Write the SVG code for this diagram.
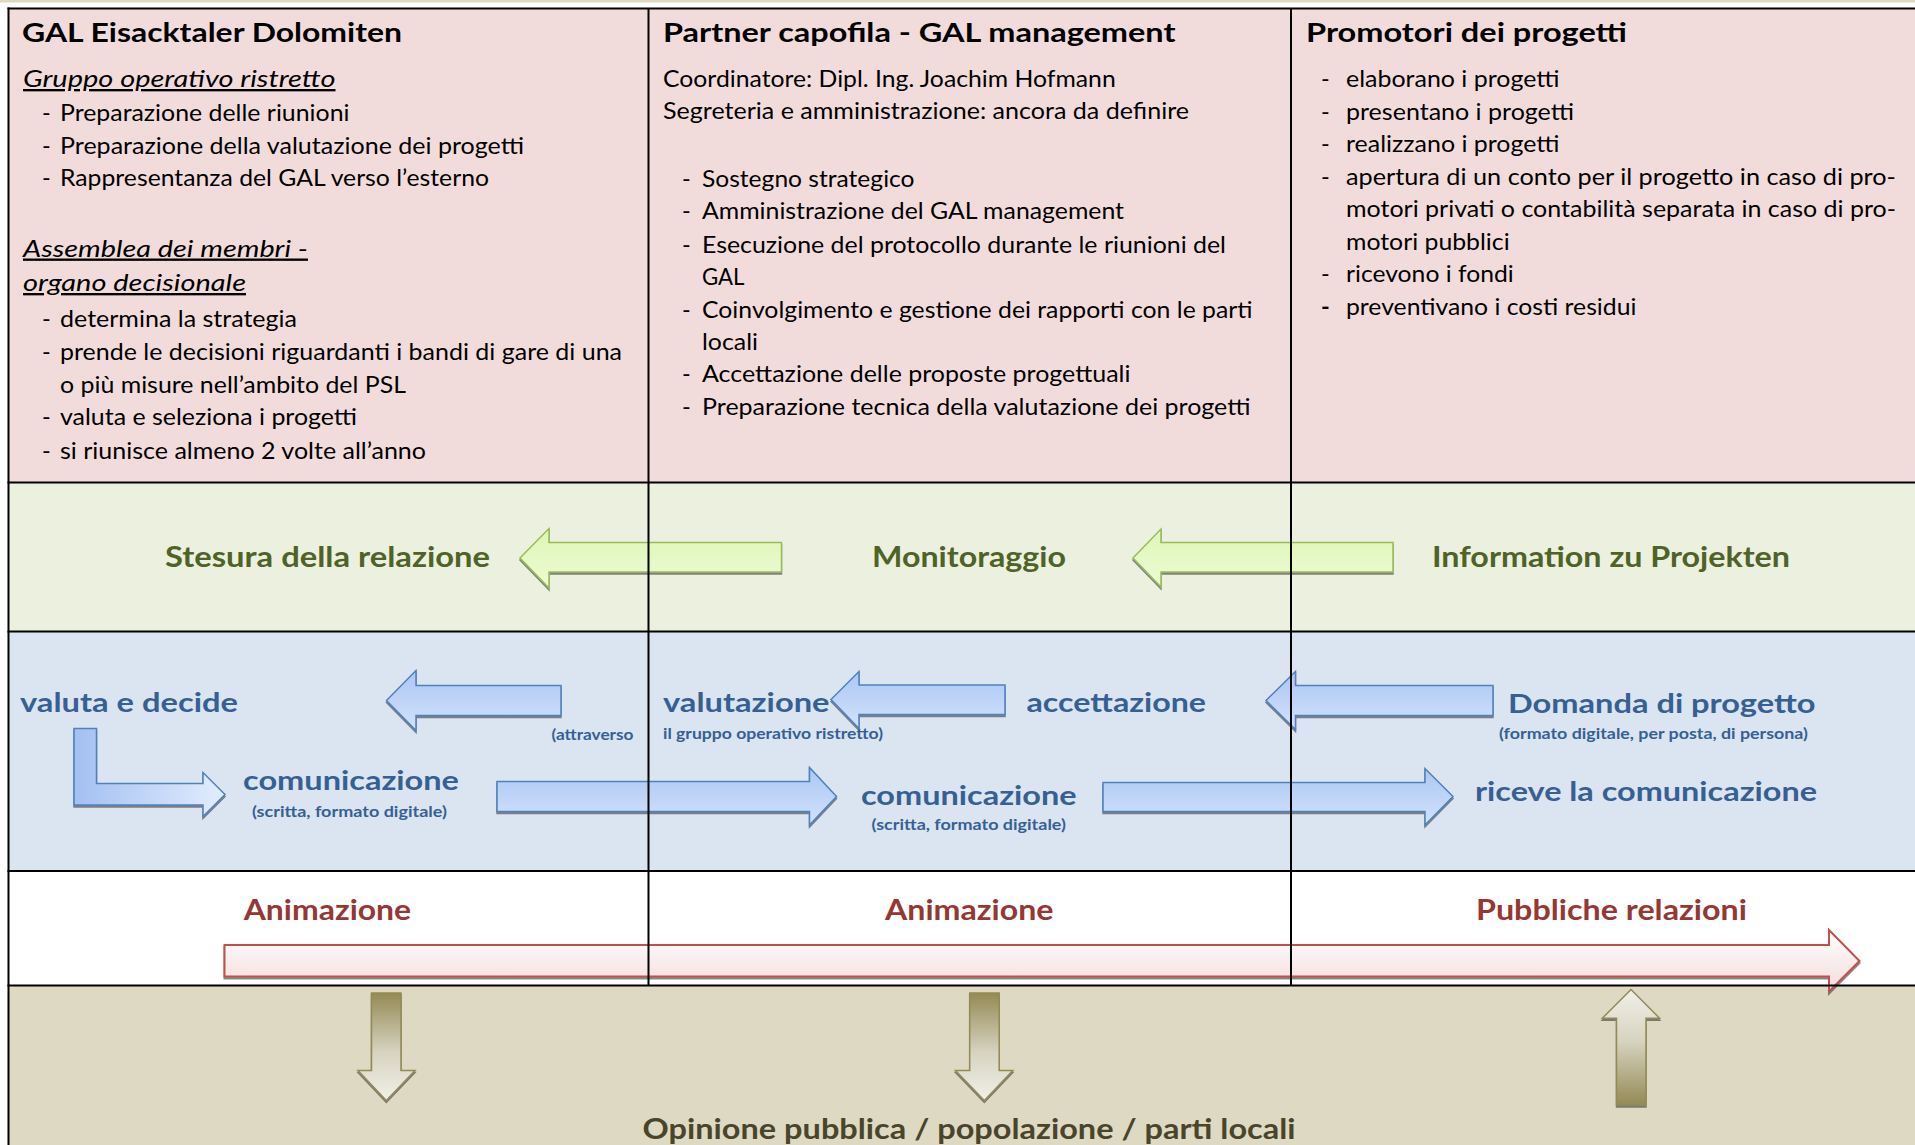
<svg xmlns="http://www.w3.org/2000/svg" width="1915" height="1145" viewBox="0 0 1915 1145">
<style>
text{font-family:Lato,"Open Sans","Liberation Sans",sans-serif}
.t{font-size:23.5px;fill:#000}
.h{font-size:26px;font-weight:bold;fill:#000}
.it{font-size:23.5px;font-style:italic;text-decoration:underline;fill:#000}
.g{font-size:28px;font-weight:bold;fill:#4F6228}
.b{font-size:27px;font-weight:bold;fill:#366092}
.bs{font-size:14.5px;font-weight:bold;fill:#366092}
.r{font-size:28px;font-weight:bold;fill:#953735}
.o{font-size:28px;font-weight:bold;fill:#4A452A}
.grid{stroke:#000;stroke-width:2;fill:none}
.ag{fill:url(#gGreen);stroke:#9BBB59;stroke-width:1.5;filter:url(#sh)}
.ab{fill:url(#gBlue);stroke:#4F81BD;stroke-width:1.5;filter:url(#sh)}
.abl{fill:url(#gBlueL);stroke:#4F81BD;stroke-width:1.5;filter:url(#sh)}
.ar{fill:url(#gRed);stroke:#C0504D;stroke-width:2;filter:url(#sh)}
.atd{fill:url(#gTanDown);stroke:#948A54;stroke-width:1.5;filter:url(#sh)}
.atu{fill:url(#gTanUp);stroke:#948A54;stroke-width:1.5;filter:url(#sh)}
</style>
<defs>
<filter id="sh" x="-5%" y="-20%" width="110%" height="150%">
<feDropShadow dx="0" dy="2" stdDeviation="0.7" flood-color="#444" flood-opacity="0.65"/>
</filter>
<linearGradient id="gGreen" x1="0" y1="0" x2="0" y2="1"><stop offset="0" stop-color="#DDF6B6"/><stop offset="1" stop-color="#EDFBD4"/></linearGradient>
<linearGradient id="gBlue" x1="0" y1="0" x2="0" y2="1"><stop offset="0" stop-color="#ABC7F3"/><stop offset="1" stop-color="#D2E2FB"/></linearGradient>
<linearGradient id="gBlueL" x1="0" y1="0" x2="1" y2="0"><stop offset="0" stop-color="#A3C0F2"/><stop offset="1" stop-color="#E3EDFD"/></linearGradient>
<linearGradient id="gRed" x1="0" y1="0" x2="0" y2="1"><stop offset="0" stop-color="#FFFFFF"/><stop offset="1" stop-color="#F2DCDB"/></linearGradient>
<linearGradient id="gTanDown" x1="0" y1="0" x2="0" y2="1"><stop offset="0" stop-color="#948A54"/><stop offset="0.55" stop-color="#D6D3C0"/><stop offset="1" stop-color="#F1F0E8"/></linearGradient>
<linearGradient id="gTanUp" x1="0" y1="0" x2="0" y2="1"><stop offset="0" stop-color="#F1F0E8"/><stop offset="0.45" stop-color="#D6D3C0"/><stop offset="1" stop-color="#948A54"/></linearGradient>
</defs>

<g id="background">
<rect x="0" y="0" width="1915" height="1145" fill="#FFFFFF"/>
<rect x="0" y="0" width="1915" height="2.5" fill="#DDD9C3"/>
<rect x="8.5" y="8.5" width="1906.5" height="474" fill="#F2DCDB"/>
<rect x="8.5" y="482.5" width="1906.5" height="149" fill="#EBF1DE"/>
<rect x="8.5" y="631.5" width="1906.5" height="239.5" fill="#DBE5F1"/>
<rect x="8.5" y="871" width="1906.5" height="114.6" fill="#FFFFFF"/>
<rect x="8.5" y="985.6" width="1906.5" height="159.4" fill="#DDD9C3"/>
</g>

<g id="gal-eisacktaler">
<text class="h" x="22" y="42" textLength="380" lengthAdjust="spacingAndGlyphs">GAL Eisacktaler Dolomiten</text>
<text class="it" x="23" y="87" textLength="312.5" lengthAdjust="spacingAndGlyphs">Gruppo operativo ristretto</text>
<text class="t" y="121"><tspan x="42">-</tspan><tspan x="60" textLength="289.5" lengthAdjust="spacingAndGlyphs">Preparazione delle riunioni</tspan></text>
<text class="t" y="153.5"><tspan x="42">-</tspan><tspan x="60" textLength="464" lengthAdjust="spacingAndGlyphs">Preparazione della valutazione dei progetti</tspan></text>
<text class="t" y="186"><tspan x="42">-</tspan><tspan x="60" textLength="429" lengthAdjust="spacingAndGlyphs">Rappresentanza del GAL verso l’esterno</tspan></text>
<text class="it" x="23" y="256.5" textLength="285" lengthAdjust="spacingAndGlyphs">Assemblea dei membri -</text>
<text class="it" x="23" y="291" textLength="223" lengthAdjust="spacingAndGlyphs">organo decisionale</text>
<text class="t" y="326.5"><tspan x="42">-</tspan><tspan x="60" textLength="237" lengthAdjust="spacingAndGlyphs">determina la strategia</tspan></text>
<text class="t" y="359.5"><tspan x="42">-</tspan><tspan x="60" textLength="562" lengthAdjust="spacingAndGlyphs">prende le decisioni riguardanti i bandi di gare di una</tspan></text>
<text class="t" x="60" y="392.5" textLength="346" lengthAdjust="spacingAndGlyphs">o più misure nell’ambito del PSL</text>
<text class="t" y="425"><tspan x="42">-</tspan><tspan x="60" textLength="297" lengthAdjust="spacingAndGlyphs">valuta e seleziona i progetti</tspan></text>
<text class="t" y="458.5"><tspan x="42">-</tspan><tspan x="60" textLength="366" lengthAdjust="spacingAndGlyphs">si riunisce almeno 2 volte all’anno</tspan></text>
</g>

<g id="partner-capofila">
<text class="h" x="663" y="42" textLength="512.5" lengthAdjust="spacingAndGlyphs">Partner capofila - GAL management</text>
<text class="t" x="663" y="86.5" textLength="452.7" lengthAdjust="spacingAndGlyphs">Coordinatore: Dipl. Ing. Joachim Hofmann</text>
<text class="t" x="663" y="118.5" textLength="526" lengthAdjust="spacingAndGlyphs">Segreteria e amministrazione: ancora da definire</text>
<text class="t" y="186.5"><tspan x="682">-</tspan><tspan x="702" textLength="212.5" lengthAdjust="spacingAndGlyphs">Sostegno strategico</tspan></text>
<text class="t" y="219.2"><tspan x="682">-</tspan><tspan x="702" textLength="422" lengthAdjust="spacingAndGlyphs">Amministrazione del GAL management</tspan></text>
<text class="t" y="252.5"><tspan x="682">-</tspan><tspan x="702" textLength="524" lengthAdjust="spacingAndGlyphs">Esecuzione del protocollo durante le riunioni del</tspan></text>
<text class="t" x="702" y="285.2" textLength="42.5" lengthAdjust="spacingAndGlyphs">GAL</text>
<text class="t" y="317.5"><tspan x="682">-</tspan><tspan x="702" textLength="550.6" lengthAdjust="spacingAndGlyphs">Coinvolgimento e gestione dei rapporti con le parti</tspan></text>
<text class="t" x="702" y="349.5" textLength="56" lengthAdjust="spacingAndGlyphs">locali</text>
<text class="t" y="382"><tspan x="682">-</tspan><tspan x="702" textLength="428.5" lengthAdjust="spacingAndGlyphs">Accettazione delle proposte progettuali</tspan></text>
<text class="t" y="414.5"><tspan x="682">-</tspan><tspan x="702" textLength="548.5" lengthAdjust="spacingAndGlyphs">Preparazione tecnica della valutazione dei progetti</tspan></text>
</g>

<g id="promotori">
<text class="h" x="1306" y="42" textLength="321" lengthAdjust="spacingAndGlyphs">Promotori dei progetti</text>
<text class="t" y="87"><tspan x="1321">-</tspan><tspan x="1346" textLength="213.5" lengthAdjust="spacingAndGlyphs">elaborano i progetti</tspan></text>
<text class="t" y="119.5"><tspan x="1321">-</tspan><tspan x="1346" textLength="228" lengthAdjust="spacingAndGlyphs">presentano i progetti</tspan></text>
<text class="t" y="152"><tspan x="1321">-</tspan><tspan x="1346" textLength="213.5" lengthAdjust="spacingAndGlyphs">realizzano i progetti</tspan></text>
<text class="t" y="184.5"><tspan x="1321">-</tspan><tspan x="1346" textLength="550" lengthAdjust="spacingAndGlyphs">apertura di un conto per il progetto in caso di pro-</tspan></text>
<text class="t" x="1346" y="217" textLength="550" lengthAdjust="spacingAndGlyphs">motori privati o contabilità separata in caso di pro-</text>
<text class="t" x="1346" y="249.5" textLength="163.6" lengthAdjust="spacingAndGlyphs">motori pubblici</text>
<text class="t" y="282"><tspan x="1321">-</tspan><tspan x="1346" textLength="167.7" lengthAdjust="spacingAndGlyphs">ricevono i fondi</tspan></text>
<text class="t" y="314.5"><tspan x="1321" font-weight="bold">-</tspan><tspan x="1346" textLength="290.4" lengthAdjust="spacingAndGlyphs">preventivano i costi residui</tspan></text>
</g>

<g id="stesura"><text class="g" x="165" y="567" textLength="325" lengthAdjust="spacingAndGlyphs">Stesura della relazione</text></g>
<g id="monitoraggio"><text class="g" x="872" y="567" textLength="194" lengthAdjust="spacingAndGlyphs">Monitoraggio</text></g>
<g id="information"><text class="g" x="1432" y="567" textLength="358" lengthAdjust="spacingAndGlyphs">Information zu Projekten</text></g>

<g id="valuta-decide"><text class="b" x="20" y="711.7" textLength="218" lengthAdjust="spacingAndGlyphs">valuta e decide</text></g>
<g id="comunicazione-1">
<text class="b" x="243" y="790" textLength="216" lengthAdjust="spacingAndGlyphs">comunicazione</text>
<text class="bs" x="252" y="816.7" textLength="195" lengthAdjust="spacingAndGlyphs">(scritta, formato digitale)</text>
</g>
<g id="valutazione">
<text class="b" x="663" y="711.7" textLength="166.5" lengthAdjust="spacingAndGlyphs">valutazione</text>
<text class="bs" x="551.5" y="740" textLength="82" lengthAdjust="spacingAndGlyphs">(attraverso</text>
<text class="bs" x="663" y="739.3" textLength="220" lengthAdjust="spacingAndGlyphs">il gruppo operativo ristretto)</text>
</g>
<g id="accettazione"><text class="b" x="1026.5" y="711.7" textLength="179.5" lengthAdjust="spacingAndGlyphs">accettazione</text></g>
<g id="comunicazione-2">
<text class="b" x="861" y="805" textLength="215.6" lengthAdjust="spacingAndGlyphs">comunicazione</text>
<text class="bs" x="871.6" y="830" textLength="194.4" lengthAdjust="spacingAndGlyphs">(scritta, formato digitale)</text>
</g>
<g id="domanda">
<text class="b" x="1508" y="712.7" textLength="307.5" lengthAdjust="spacingAndGlyphs">Domanda di progetto</text>
<text class="bs" x="1499" y="739.3" textLength="309" lengthAdjust="spacingAndGlyphs">(formato digitale, per posta, di persona)</text>
</g>
<g id="riceve"><text class="b" x="1475" y="800.7" textLength="342" lengthAdjust="spacingAndGlyphs">riceve la comunicazione</text></g>

<g id="animazione-1"><text class="r" x="243.7" y="920" textLength="167.5" lengthAdjust="spacingAndGlyphs">Animazione</text></g>
<g id="animazione-2"><text class="r" x="885" y="920" textLength="168.5" lengthAdjust="spacingAndGlyphs">Animazione</text></g>
<g id="pubbliche"><text class="r" x="1476" y="920" textLength="271" lengthAdjust="spacingAndGlyphs">Pubbliche relazioni</text></g>

<g id="opinione"><text class="o" x="642.6" y="1139" textLength="653" lengthAdjust="spacingAndGlyphs">Opinione pubblica / popolazione / parti locali</text></g>

<g id="connectors">
<path class="ag" d="M520,558 L549,528.5 L549,542.5 L781.5,542.5 L781.5,572 L549,572 L549,588 Z"/>
<path class="ag" d="M1133,558 L1161,529 L1161,542.5 L1393,542.5 L1393,572 L1161,572 L1161,587 Z"/>
<path class="ab" d="M386.5,700.5 L416,670.5 L416,685.5 L561,685.5 L561,715.5 L416,715.5 L416,730.5 Z"/>
<path class="ab" d="M831,699.5 L859,671.5 L859,685 L1005,685 L1005,714.5 L859,714.5 L859,728.5 Z"/>
<path class="ab" d="M1266,700.5 L1295.5,671.5 L1295.5,685.5 L1493,685.5 L1493,715.5 L1295.5,715.5 L1295.5,729.5 Z"/>
<path class="abl" d="M74,728.5 L96.5,728.5 L96.5,783.5 L203,783.5 L203,772.5 L225,794.5 L203,816.5 L203,805 L74,805 Z"/>
<path class="ab" d="M497,781.5 L809.5,781.5 L809.5,767.5 L836.5,796.5 L809.5,825 L809.5,811.5 L497,811.5 Z"/>
<path class="ab" d="M1103,782.5 L1425,782.5 L1425,768.5 L1453,796.5 L1425,825 L1425,811.5 L1103,811.5 Z"/>
<path class="ar" d="M224.5,945 L1829,945 L1829,930 L1859.5,961 L1829,991.5 L1829,976.5 L224.5,976.5 Z"/>
<path class="atd" d="M371.5,993 L401,993 L401,1070.5 L415,1070.5 L386.3,1100.5 L358,1070.5 L371.5,1070.5 Z"/>
<path class="atd" d="M969.7,993 L999.2,993 L999.2,1070.5 L1012.8,1070.5 L984.3,1100.5 L955.5,1070.5 L969.7,1070.5 Z"/>
<path class="atu" d="M1631,989.5 L1659.6,1018.3 L1646,1018.3 L1646,1105 L1616.5,1105 L1616.5,1018.3 L1602.3,1018.3 Z"/>
</g>

<g id="grid" class="grid">
<line x1="7.5" y1="8.5" x2="1915" y2="8.5"/>
<line x1="7.5" y1="482.5" x2="1915" y2="482.5"/>
<line x1="7.5" y1="631.5" x2="1915" y2="631.5"/>
<line x1="7.5" y1="871" x2="1915" y2="871"/>
<line x1="7.5" y1="985.6" x2="1915" y2="985.6"/>
<line x1="8.5" y1="7.5" x2="8.5" y2="1145"/>
<line x1="648.5" y1="8.5" x2="648.5" y2="985.6"/>
<line x1="1291" y1="8.5" x2="1291" y2="985.6"/>
</g>
</svg>
